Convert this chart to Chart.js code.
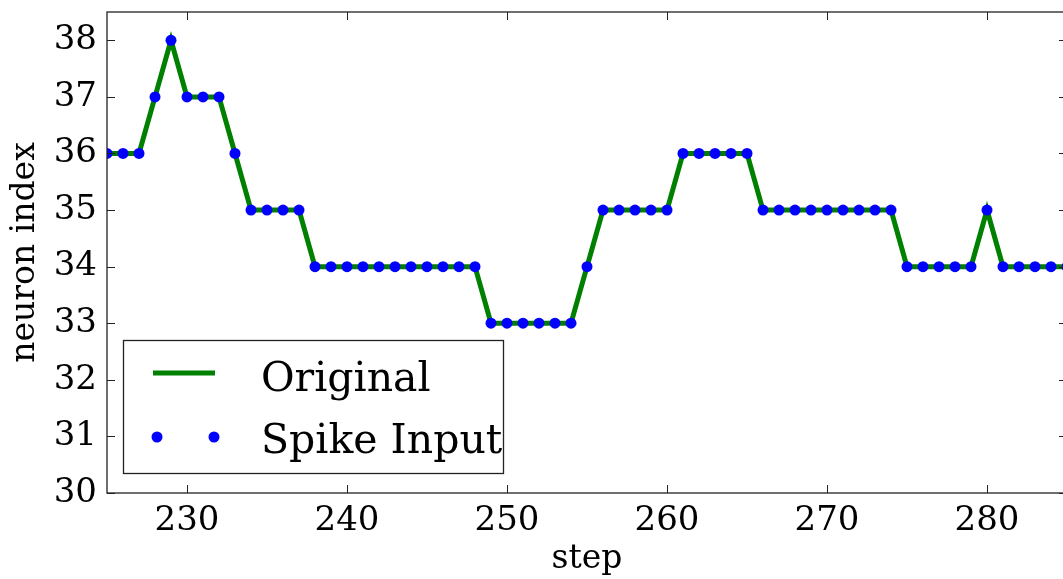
<!DOCTYPE html>
<html>
<head>
<meta charset="utf-8">
<script src="https://cdn.jsdelivr.net/npm/chart.js@4"></script>
<style>
  html, body { margin: 0; padding: 0; background: #fff; overflow: hidden; }
  #wrap { width: 1068px; height: 579px; }
</style>
</head>
<body>
<div id="wrap"><canvas id="spikeChart" width="1068" height="579"></canvas></div>
<script>
// data
var steps = [225, 226, 227, 228, 229, 230, 231, 232, 233, 234, 235, 236, 237, 238, 239, 240,
             241, 242, 243, 244, 245, 246, 247, 248, 249, 250, 251, 252, 253, 254, 255, 256,
             257, 258, 259, 260, 261, 262, 263, 264, 265, 266, 267, 268, 269, 270, 271, 272,
             273, 274, 275, 276, 277, 278, 279, 280, 281, 282, 283, 284, 285];
var neuronIndex = [36, 36, 36, 37, 38, 37, 37, 37, 36, 35, 35, 35, 35, 34, 34, 34,
                   34, 34, 34, 34, 34, 34, 34, 34, 33, 33, 33, 33, 33, 33, 34, 35,
                   35, 35, 35, 35, 36, 36, 36, 36, 36, 35, 35, 35, 35, 35, 35, 35,
                   35, 35, 34, 34, 34, 34, 34, 35, 34, 34, 34, 34, 34];
var xTicks = [230, 240, 250, 260, 270, 280];
var yTicks = [30, 31, 32, 33, 34, 35, 36, 37, 38];

var FONT = '"DejaVu Serif", "Liberation Serif", serif';

function pts() {
    return steps.map(function (s, i) { return { x: s, y: neuronIndex[i] }; });
}

// matplotlib-like frame with inward ticks on all four sides
var framePlugin = {
    id: 'frame',
    afterDraw: function (chart) {
        var c = chart.ctx, a = chart.chartArea;
        var xs = chart.scales.x, ys = chart.scales.y;
        c.save();
        c.strokeStyle = '#222';
        c.lineWidth = 1.3;
        c.strokeRect(a.left, a.top, a.right - a.left, a.bottom - a.top);
        c.lineWidth = 1;
        c.beginPath();
        xTicks.forEach(function (v) {
            var px = Math.round(xs.getPixelForValue(v)) + 0.5;
            c.moveTo(px, a.bottom); c.lineTo(px, a.bottom - 8);
            c.moveTo(px, a.top); c.lineTo(px, a.top + 8);
        });
        yTicks.forEach(function (v) {
            var py = Math.round(ys.getPixelForValue(v)) + 0.5;
            c.moveTo(a.left, py); c.lineTo(a.left + 8, py);
            c.moveTo(a.right, py); c.lineTo(a.right - 8, py);
        });
        c.stroke();

        // legend box
        var ds = chart.data.datasets;
        c.fillStyle = '#fff';
        c.fillRect(123, 340, 380, 133);
        c.strokeStyle = '#222';
        c.lineWidth = 1.3;
        c.strokeRect(123.5, 340.5, 380, 133);
        c.strokeStyle = ds[0].borderColor;
        c.lineWidth = 5;
        c.beginPath();
        c.moveTo(153, 373); c.lineTo(215, 373);
        c.stroke();
        c.fillStyle = ds[1].pointBackgroundColor;
        [157, 214].forEach(function (x) {
            c.beginPath(); c.arc(x, 437, 5.5, 0, Math.PI * 2); c.fill();
        });
        c.fillStyle = '#000';
        c.font = '41px ' + FONT;
        c.textBaseline = 'alphabetic';
        c.fillText(ds[0].label, 261, 391);
        c.fillText(ds[1].label, 261, 453);
        c.restore();
    }
};

var chart = new Chart(document.getElementById('spikeChart').getContext('2d'), {
    type: 'line',
    data: {
        datasets: [
            {
                label: 'Original',
                data: pts(),
                borderColor: '#008000',
                borderWidth: 5,
                pointRadius: 0,
                fill: false,
                tension: 0,
                clip: 0,
                order: 2
            },
            {
                label: 'Spike Input',
                data: pts(),
                showLine: false,
                pointRadius: 5.5,
                pointBorderWidth: 0,
                pointBackgroundColor: '#0000ff',
                pointBorderColor: '#0000ff',
                clip: 0,
                order: 1
            }
        ]
    },
    options: {
        responsive: false,
        animation: false,
        devicePixelRatio: 1,
        layout: { autoPadding: false, padding: { top: 12, right: 1, left: 0, bottom: 0 } },
        plugins: {
            legend: { display: false },
            tooltip: { enabled: false }
        },
        scales: {
            x: {
                type: 'linear',
                min: 225,
                max: 285,
                afterBuildTicks: function (s) { s.ticks = xTicks.map(function (v) { return { value: v }; }); },
                afterFit: function (s) { s.height = 86; s.paddingLeft = 0; s.paddingRight = 0; },
                grid: { display: false, drawTicks: false },
                border: { display: false },
                ticks: { color: '#000', font: { family: FONT, size: 34 }, padding: 8, maxRotation: 0 },
                title: { display: true, text: 'step', color: '#000', font: { family: FONT, size: 33 }, padding: { top: 0, bottom: 0 } }
            },
            y: {
                min: 30,
                max: 38.5,
                afterBuildTicks: function (s) { s.ticks = yTicks.map(function (v) { return { value: v }; }); },
                afterFit: function (s) { s.width = 107; s.paddingTop = 0; s.paddingBottom = 0; },
                grid: { display: false, drawTicks: false },
                border: { display: false },
                ticks: { color: '#000', font: { family: FONT, size: 34 }, padding: 10 },
                title: { display: true, text: 'neuron index', color: '#000', font: { family: FONT, size: 33 }, padding: { top: 6, bottom: 0 } }
            }
        }
    },
    plugins: [framePlugin]
});
</script>
</body>
</html>
